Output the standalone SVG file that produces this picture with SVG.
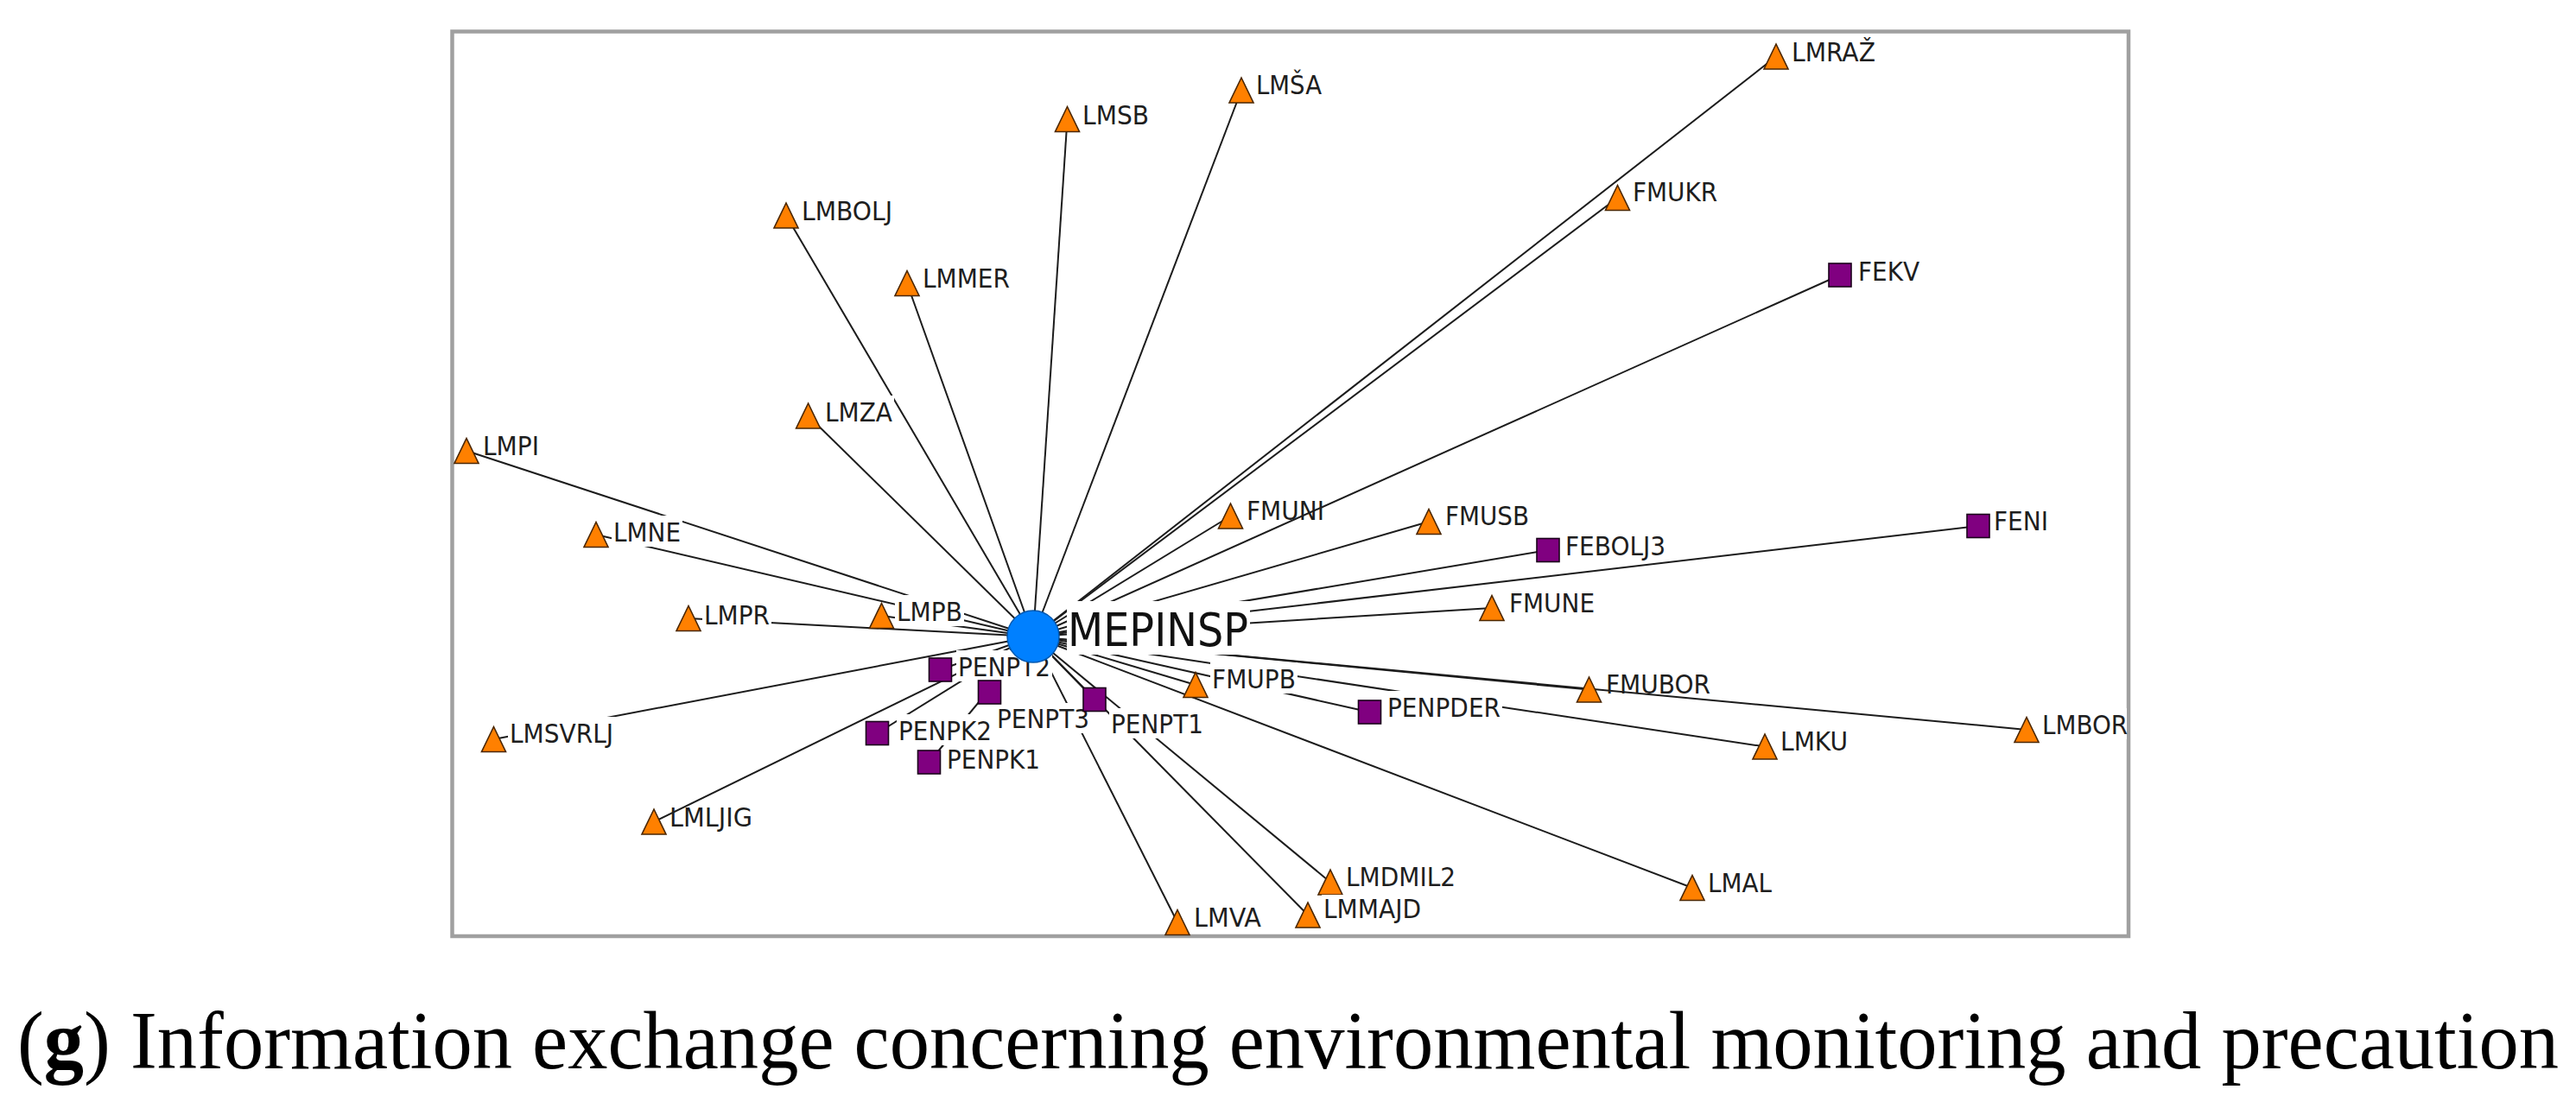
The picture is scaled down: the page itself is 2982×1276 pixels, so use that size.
<svg xmlns="http://www.w3.org/2000/svg" xmlns:xlink="http://www.w3.org/1999/xlink" width="2982" height="1276" viewBox="0 0 2982 1276">
<style>
.edge{stroke:#1c1c1c;stroke-width:2;fill:none}
.tri{fill:#FF8000;stroke:#4a2600;stroke-width:1.6}
.sq{fill:#800080;stroke:#1a001a;stroke-width:1.6}
.bg{fill:#ffffff}
.lbl{font-family:"DejaVu Sans Condensed","DejaVu Sans",sans-serif;font-stretch:condensed;font-size:31px;fill:#1e1e1e}
.big{font-family:"DejaVu Sans Condensed","DejaVu Sans",sans-serif;font-stretch:condensed;font-size:53px;fill:#111}
.cap{font-family:"Liberation Serif","Times New Roman",serif;font-size:96px;fill:#000}
</style>
<defs>
<polygon id="tri" class="tri" points="0,-14.5 -14,14.5 14,14.5"/>
<rect id="sq" class="sq" x="-13" y="-13.5" width="26" height="27"/>
</defs>
<rect x="0" y="0" width="2982" height="1276" fill="#ffffff"/>
<rect id="frame" x="523.5" y="36.5" width="1940.5" height="1047.5" fill="none" stroke="#A0A0A0" stroke-width="4.5"/>
<g id="edges">
<line class="edge" x1="2056" y1="65.5" x2="1196" y2="737"/>
<line class="edge" x1="1437" y1="104.5" x2="1196" y2="737"/>
<line class="edge" x1="1235.5" y1="138" x2="1196" y2="737"/>
<line class="edge" x1="1872.5" y1="229" x2="1196" y2="737"/>
<line class="edge" x1="910" y1="249.5" x2="1196" y2="737"/>
<line class="edge" x1="2130" y1="318.5" x2="1196" y2="737"/>
<line class="edge" x1="1050" y1="328" x2="1196" y2="737"/>
<line class="edge" x1="935.6" y1="481.5" x2="1196" y2="737"/>
<line class="edge" x1="540" y1="522" x2="1196" y2="737"/>
<line class="edge" x1="690" y1="619" x2="1196" y2="737"/>
<line class="edge" x1="1424.5" y1="597.5" x2="1196" y2="737"/>
<line class="edge" x1="1654" y1="604" x2="1196" y2="737"/>
<line class="edge" x1="2290" y1="609" x2="1196" y2="737"/>
<line class="edge" x1="1792" y1="637" x2="1196" y2="737"/>
<line class="edge" x1="1727" y1="704" x2="1196" y2="737"/>
<line class="edge" x1="797" y1="716" x2="1196" y2="737"/>
<line class="edge" x1="1020.5" y1="713" x2="1196" y2="737"/>
<line class="edge" x1="1088.5" y1="775.5" x2="1196" y2="737"/>
<line class="edge" x1="1839.5" y1="798.5" x2="1196" y2="737"/>
<line class="edge" x1="1384" y1="793" x2="1196" y2="737"/>
<line class="edge" x1="1145.5" y1="801.5" x2="1196" y2="737"/>
<line class="edge" x1="1267" y1="810" x2="1196" y2="737"/>
<line class="edge" x1="1585.5" y1="824.5" x2="1196" y2="737"/>
<line class="edge" x1="571.5" y1="856" x2="1196" y2="737"/>
<line class="edge" x1="1015.5" y1="849" x2="1196" y2="737"/>
<line class="edge" x1="2043" y1="864.5" x2="1196" y2="737"/>
<line class="edge" x1="2346" y1="845" x2="1196" y2="737"/>
<line class="edge" x1="1075.5" y1="882.5" x2="1196" y2="737"/>
<line class="edge" x1="757" y1="951.5" x2="1196" y2="737"/>
<line class="edge" x1="1540" y1="1021.5" x2="1196" y2="737"/>
<line class="edge" x1="1959" y1="1028" x2="1196" y2="737"/>
<line class="edge" x1="1514" y1="1059.5" x2="1196" y2="737"/>
<line class="edge" x1="1363" y1="1068" x2="1196" y2="737"/>
</g>
<g id="n-LMRAZ"><rect class="bg" x="2072" y="41" width="101" height="36"/><use xlink:href="#tri" x="2056" y="65.5"/><text class="lbl" x="2074" y="71" textLength="97" lengthAdjust="spacingAndGlyphs">LMRAŽ</text></g>
<g id="n-LMSA"><rect class="bg" x="1452" y="79" width="80" height="36"/><use xlink:href="#tri" x="1437" y="104.5"/><text class="lbl" x="1454" y="109" textLength="76" lengthAdjust="spacingAndGlyphs">LMŠA</text></g>
<g id="n-LMSB"><rect class="bg" x="1251" y="114" width="81" height="36"/><use xlink:href="#tri" x="1235.5" y="138"/><text class="lbl" x="1253" y="144" textLength="77" lengthAdjust="spacingAndGlyphs">LMSB</text></g>
<g id="n-FMUKR"><rect class="bg" x="1888" y="203" width="102" height="36"/><use xlink:href="#tri" x="1872.5" y="229"/><text class="lbl" x="1890" y="233" textLength="98" lengthAdjust="spacingAndGlyphs">FMUKR</text></g>
<g id="n-LMBOLJ"><rect class="bg" x="926" y="225" width="109" height="36"/><use xlink:href="#tri" x="910" y="249.5"/><text class="lbl" x="928" y="255" textLength="105" lengthAdjust="spacingAndGlyphs">LMBOLJ</text></g>
<g id="n-FEKV"><rect class="bg" x="2149" y="295" width="75" height="36"/><use xlink:href="#sq" x="2130" y="318.5"/><text class="lbl" x="2151" y="325" textLength="71" lengthAdjust="spacingAndGlyphs">FEKV</text></g>
<g id="n-LMMER"><rect class="bg" x="1066" y="303" width="105" height="36"/><use xlink:href="#tri" x="1050" y="328"/><text class="lbl" x="1068" y="333" textLength="101" lengthAdjust="spacingAndGlyphs">LMMER</text></g>
<g id="n-LMZA"><rect class="bg" x="953" y="458" width="82" height="36"/><use xlink:href="#tri" x="935.6" y="481.5"/><text class="lbl" x="955" y="488" textLength="78" lengthAdjust="spacingAndGlyphs">LMZA</text></g>
<g id="n-LMPI"><use xlink:href="#tri" x="540" y="522"/><text class="lbl" x="559" y="527" textLength="65" lengthAdjust="spacingAndGlyphs">LMPI</text></g>
<g id="n-LMNE"><rect class="bg" x="708" y="597" width="82" height="36"/><use xlink:href="#tri" x="690" y="619"/><text class="lbl" x="710" y="627" textLength="78" lengthAdjust="spacingAndGlyphs">LMNE</text></g>
<g id="n-FMUNI"><use xlink:href="#tri" x="1424.5" y="597.5"/><text class="lbl" x="1443" y="602" textLength="90" lengthAdjust="spacingAndGlyphs">FMUNI</text></g>
<g id="n-FMUSB"><rect class="bg" x="1671" y="578" width="101" height="36"/><use xlink:href="#tri" x="1654" y="604"/><text class="lbl" x="1673" y="608" textLength="97" lengthAdjust="spacingAndGlyphs">FMUSB</text></g>
<g id="n-FENI"><rect class="bg" x="2306" y="584" width="67" height="36"/><use xlink:href="#sq" x="2290" y="609"/><text class="lbl" x="2308" y="614" textLength="63" lengthAdjust="spacingAndGlyphs">FENI</text></g>
<g id="n-FEBOLJ3"><rect class="bg" x="1810" y="613" width="120" height="36"/><use xlink:href="#sq" x="1792" y="637"/><text class="lbl" x="1812" y="643" textLength="116" lengthAdjust="spacingAndGlyphs">FEBOLJ3</text></g>
<g id="n-FMUNE"><rect class="bg" x="1745" y="679" width="103" height="36"/><use xlink:href="#tri" x="1727" y="704"/><text class="lbl" x="1747" y="709" textLength="99" lengthAdjust="spacingAndGlyphs">FMUNE</text></g>
<g id="n-LMPR"><rect class="bg" x="813" y="693" width="80" height="36"/><use xlink:href="#tri" x="797" y="716"/><text class="lbl" x="815" y="723" textLength="76" lengthAdjust="spacingAndGlyphs">LMPR</text></g>
<g id="n-LMPB"><rect class="bg" x="1036" y="689" width="80" height="36"/><use xlink:href="#tri" x="1020.5" y="713"/><text class="lbl" x="1038" y="719" textLength="76" lengthAdjust="spacingAndGlyphs">LMPB</text></g>
<g id="n-PENPT2"><rect class="bg" x="1107" y="753" width="111" height="36"/><use xlink:href="#sq" x="1088.5" y="775.5"/><text class="lbl" x="1109" y="783" textLength="107" lengthAdjust="spacingAndGlyphs">PENPT2</text></g>
<g id="n-FMUBOR"><use xlink:href="#tri" x="1839.5" y="798.5"/><text class="lbl" x="1859" y="803" textLength="121" lengthAdjust="spacingAndGlyphs">FMUBOR</text></g>
<g id="n-FMUPB"><rect class="bg" x="1401" y="767" width="101" height="36"/><use xlink:href="#tri" x="1384" y="793"/><text class="lbl" x="1403" y="797" textLength="97" lengthAdjust="spacingAndGlyphs">FMUPB</text></g>
<g id="n-PENPT3"><rect class="bg" x="1152" y="814" width="111" height="35"/><use xlink:href="#sq" x="1145.5" y="801.5"/><text class="lbl" x="1154" y="843" textLength="107" lengthAdjust="spacingAndGlyphs">PENPT3</text></g>
<g id="n-PENPT1"><rect class="bg" x="1284" y="820" width="111" height="35"/><use xlink:href="#sq" x="1267" y="810"/><text class="lbl" x="1286" y="849" textLength="107" lengthAdjust="spacingAndGlyphs">PENPT1</text></g>
<g id="n-PENPDER"><rect class="bg" x="1604" y="800" width="135" height="36"/><use xlink:href="#sq" x="1585.5" y="824.5"/><text class="lbl" x="1606" y="830" textLength="131" lengthAdjust="spacingAndGlyphs">PENPDER</text></g>
<g id="n-LMSVRLJ"><rect class="bg" x="588" y="830" width="124" height="36"/><use xlink:href="#tri" x="571.5" y="856"/><text class="lbl" x="590" y="860" textLength="120" lengthAdjust="spacingAndGlyphs">LMSVRLJ</text></g>
<g id="n-PENPK2"><rect class="bg" x="1038" y="827" width="112" height="36"/><use xlink:href="#sq" x="1015.5" y="849"/><text class="lbl" x="1040" y="857" textLength="108" lengthAdjust="spacingAndGlyphs">PENPK2</text></g>
<g id="n-LMKU"><rect class="bg" x="2059" y="839" width="82" height="36"/><use xlink:href="#tri" x="2043" y="864.5"/><text class="lbl" x="2061" y="869" textLength="78" lengthAdjust="spacingAndGlyphs">LMKU</text></g>
<g id="n-LMBOR"><rect class="bg" x="2362" y="820" width="100" height="36"/><use xlink:href="#tri" x="2346" y="845"/><text class="lbl" x="2364" y="850" textLength="99" lengthAdjust="spacingAndGlyphs">LMBOR</text></g>
<g id="n-PENPK1"><rect class="bg" x="1094" y="860" width="112" height="36"/><use xlink:href="#sq" x="1075.5" y="882.5"/><text class="lbl" x="1096" y="890" textLength="108" lengthAdjust="spacingAndGlyphs">PENPK1</text></g>
<g id="n-LMLJIG"><use xlink:href="#tri" x="757" y="951.5"/><text class="lbl" x="775" y="957" textLength="96" lengthAdjust="spacingAndGlyphs">LMLJIG</text></g>
<g id="n-LMDMIL2"><rect class="bg" x="1556" y="996" width="131" height="36"/><use xlink:href="#tri" x="1540" y="1021.5"/><text class="lbl" x="1558" y="1026" textLength="127" lengthAdjust="spacingAndGlyphs">LMDMIL2</text></g>
<g id="n-LMAL"><rect class="bg" x="1975" y="1003" width="78" height="36"/><use xlink:href="#tri" x="1959" y="1028"/><text class="lbl" x="1977" y="1033" textLength="74" lengthAdjust="spacingAndGlyphs">LMAL</text></g>
<g id="n-LMMAJD"><rect class="bg" x="1530" y="1036" width="117" height="36"/><use xlink:href="#tri" x="1514" y="1059.5"/><text class="lbl" x="1532" y="1063" textLength="113" lengthAdjust="spacingAndGlyphs">LMMAJD</text></g>
<g id="n-LMVA"><rect class="bg" x="1380" y="1043" width="82" height="36"/><use xlink:href="#tri" x="1363" y="1068"/><text class="lbl" x="1382" y="1073" textLength="78" lengthAdjust="spacingAndGlyphs">LMVA</text></g>
<g id="n-MEPINSP"><rect class="bg" x="1235" y="696" width="212" height="62"/><circle cx="1196" cy="737" r="30" fill="#0080FF" stroke="#0058b0" stroke-width="1.5"/><text class="big" x="1236" y="748" textLength="209" lengthAdjust="spacingAndGlyphs">MEPINSP</text></g>
<text class="cap" x="20" y="1237" textLength="2942" lengthAdjust="spacingAndGlyphs">(<tspan font-weight="bold">g</tspan>) Information exchange concerning environmental monitoring and precaution</text>
</svg>
